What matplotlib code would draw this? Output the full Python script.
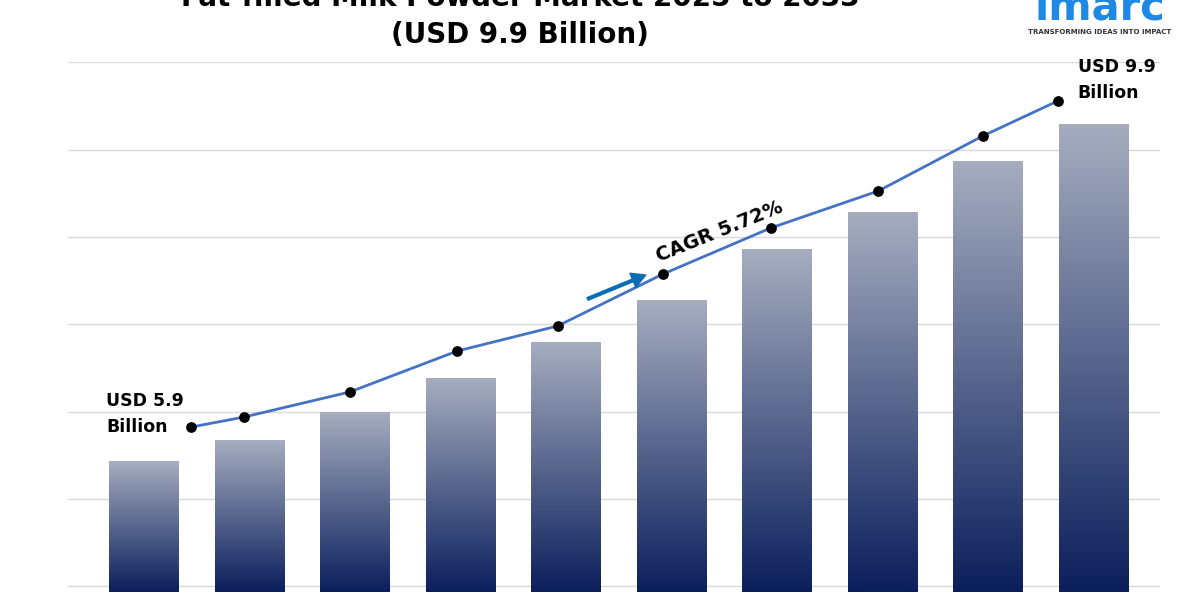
import matplotlib
matplotlib.use('agg')
import matplotlib.pyplot as plt
import numpy as np
from matplotlib.colors import LinearSegmentedColormap

years = ['2025', '2026', '2027', '2028', '2029', '2030', '2031', '2032', '2033', '2034']
bar_values = [131, 152, 180, 214, 250, 292, 343, 380, 431, 468]
line_x = [0.45, 0.95, 1.95, 2.97, 3.92, 4.92, 5.94, 6.96, 7.95, 8.66]
line_values = [165, 175, 200, 241, 266, 318, 364, 401, 456, 491]
grid_levels = [6, 93, 180, 268, 355, 442, 530]

fig = plt.figure(figsize=(12, 6), dpi=100)
ax = fig.add_axes([68/1200, 8/600, 1092/1200, 530/600])
for s in ax.spines.values():
    s.set_visible(False)
ax.set_xticks([]); ax.set_yticks([])
for g in grid_levels:
    ax.axhline(g, color='#d9d9d9', lw=1, zorder=0)

cmap = LinearSegmentedColormap.from_list('bar', ['#0b1f5c', '#a6adbf'])
grad = np.linspace(0, 1, 256).reshape(-1, 1)
w = 0.66
for i, v in enumerate(bar_values):
    rect = plt.Rectangle((i - w/2, 0), w, v, transform=ax.transData, facecolor='none')
    ax.add_patch(rect)
    im = ax.imshow(grad, cmap=cmap, aspect='auto', origin='lower',
                   extent=(i - w/2, i + w/2, 0, v), zorder=2)
    im.set_clip_path(rect)
ax.set_xlim(-0.72, 9.63)
ax.set_ylim(0, 530)

ax.plot(line_x, line_values, color='#4472c4', lw=2, zorder=3)
ax.scatter(line_x, line_values, color='black', s=45, zorder=4)

ax.text(-0.36, 178, 'USD 5.9\nBillion', fontsize=12.5, fontweight='bold', ha='left', va='center', linespacing=1.6)
ax.text(8.85, 512, 'USD 9.9\nBillion', fontsize=12.5, fontweight='bold', ha='left', va='center', linespacing=1.6)
ax.annotate('', xy=(4.78, 318), xytext=(4.18, 292),
            arrowprops=dict(arrowstyle='simple,head_width=1.1,head_length=1', color='#0a6db5'))
ax.text(4.83, 326, 'CAGR 5.72%', fontsize=14, fontweight='bold', rotation=22, ha='left', va='bottom')

fig.text(520/1200, 1 + 2/600, 'Fat-filled Milk Powder Market 2025 to 2033', fontsize=20,
         fontweight='bold', ha='center', va='center')
fig.text(520/1200, 1 - 35/600, '(USD 9.9 Billion)', fontsize=20, fontweight='bold', ha='center', va='center')
fig.text(1100/1200, 1 - 8/600, 'imarc', fontsize=30, fontweight='bold', color='#1e88e5', ha='center', va='center')
fig.text(1100/1200, 1 - 32/600, 'TRANSFORMING IDEAS INTO IMPACT', fontsize=5, fontweight='bold',
         color='#333333', ha='center', va='center')

fig.savefig('out.png')
